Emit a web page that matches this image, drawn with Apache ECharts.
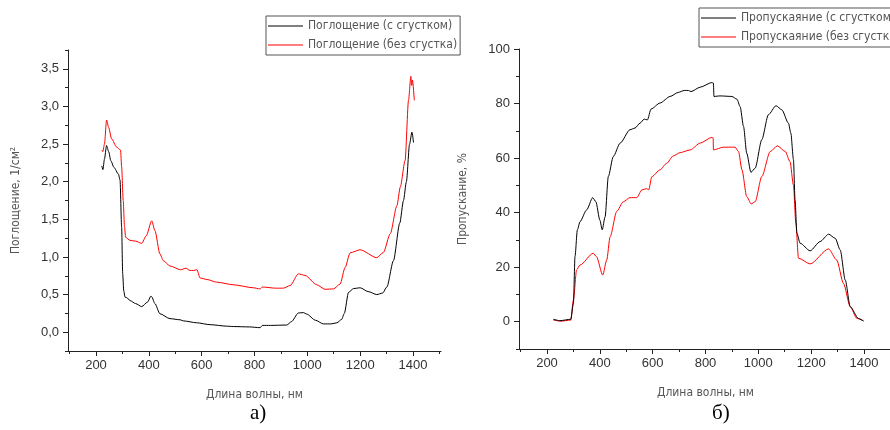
<!DOCTYPE html>
<html>
<head>
<meta charset="utf-8">
<style>
  html, body { margin: 0; padding: 0; background: #fff; }
  #chart { width: 890px; height: 430px; }
</style>
</head>
<body>
<div id="chart"></div>
<script src="https://cdn.jsdelivr.net/npm/echarts@6/dist/echarts.min.js"></script>
<script>
    // а) поглощение
    var wlAbsClot = [222, 226, 232, 240, 248, 256, 268, 285, 291, 297, 301, 305, 310, 316, 329, 350, 373, 395, 408, 411, 423, 442, 480, 518, 531, 581, 632, 695, 720, 780, 821, 830, 860, 922, 940, 966, 985, 998, 1030, 1061, 1090, 1112, 1130, 1140, 1156, 1175, 1200, 1230, 1263, 1285, 1301, 1326, 1350, 1364, 1375, 1387, 1396, 1402];
    var absClot   = [2.21, 2.16, 2.30, 2.48, 2.40, 2.28, 2.19, 2.10, 2.02, 1.40, 0.78, 0.55, 0.465, 0.46, 0.42, 0.38, 0.34, 0.40, 0.48, 0.47, 0.38, 0.245, 0.18, 0.165, 0.15, 0.125, 0.10, 0.08, 0.075, 0.07, 0.06, 0.09, 0.09, 0.095, 0.14, 0.255, 0.26, 0.24, 0.16, 0.11, 0.11, 0.125, 0.17, 0.25, 0.53, 0.58, 0.59, 0.54, 0.50, 0.52, 0.60, 0.95, 1.45, 1.75, 2.00, 2.50, 2.66, 2.52];

    var wlAbsNoClot = [222, 226, 232, 240, 248, 259, 278, 293, 297, 303, 308, 312, 329, 350, 373, 390, 411, 423, 442, 455, 480, 520, 541, 555, 568, 582, 594, 620, 657, 720, 796, 821, 830, 880, 909, 935, 966, 991, 1036, 1067, 1099, 1124, 1143, 1162, 1200, 1263, 1288, 1314, 1339, 1352, 1370, 1383, 1392, 1395, 1398, 1405];
    var absNoClot   = [2.42, 2.40, 2.50, 2.82, 2.72, 2.57, 2.46, 2.42, 2.20, 1.75, 1.40, 1.26, 1.22, 1.21, 1.18, 1.28, 1.48, 1.35, 1.04, 0.95, 0.88, 0.83, 0.85, 0.82, 0.82, 0.83, 0.72, 0.70, 0.665, 0.63, 0.59, 0.575, 0.60, 0.585, 0.585, 0.62, 0.775, 0.755, 0.63, 0.57, 0.575, 0.64, 0.86, 1.055, 1.095, 0.99, 1.06, 1.31, 1.68, 1.93, 2.28, 3.08, 3.40, 3.28, 3.35, 3.08];

    // б) пропускание
    var wlTrClot = [224, 249, 290, 300, 306, 315, 325, 350, 373, 385, 400, 409, 420, 432, 451, 477, 514, 533, 552, 568, 580, 594, 628, 666, 697, 720, 735, 745, 780, 824, 830, 832, 855, 900, 919, 931, 944, 956, 972, 988, 1013, 1038, 1067, 1089, 1114, 1123, 1133, 1139, 1146, 1158, 1196, 1234, 1266, 1291, 1310, 1329, 1348, 1379, 1398];
    var trClot   = [0.9, 0.4, 0.9, 6.7, 23.9, 33.7, 36.7, 41, 45.5, 44, 37.3, 33.7, 38.5, 53.2, 60.6, 65.5, 70.4, 71, 72.8, 74.3, 74.0, 78, 80.2, 82.6, 84.1, 84.8, 84.8, 84.4, 86, 87.7, 87.5, 82.6, 82.8, 82.6, 81.6, 78.9, 71.6, 61.8, 54.8, 56.3, 66.7, 75.9, 79.2, 77.7, 72.8, 69.2, 59.4, 44.7, 32.5, 28.8, 26, 29.4, 32.1, 30.6, 26.3, 15.3, 5.5, 1.2, 0.2];

    var wlTrNoClot = [224, 252, 290, 300, 312, 325, 375, 387, 411, 426, 439, 464, 489, 514, 540, 559, 576, 585, 597, 628, 653, 678, 704, 742, 780, 824, 829, 830, 868, 912, 925, 938, 956, 973, 988, 1013, 1045, 1072, 1102, 1120, 1133, 1142, 1152, 1196, 1266, 1297, 1322, 1348, 1373, 1398];
    var trNoClot   = [0.6, 0.2, 0.6, 8, 19, 20.8, 25.1, 23.9, 17.1, 22.6, 31.2, 40.5, 44, 45.5, 45.5, 48.3, 48.8, 48.4, 53.2, 55.7, 58.1, 60.8, 62, 63, 65.5, 67.6, 67.4, 63, 64, 64, 62.4, 55.7, 45.9, 43.2, 44, 53.2, 62.4, 64.5, 62.4, 58.7, 50, 36, 23.3, 21.2, 26.7, 22.6, 14.1, 5.5, 1.2, 0.4];

    var xMajor = [200, 400, 600, 800, 1000, 1200, 1400];
    var xMinor = [100, 300, 500, 700, 900, 1100, 1300, 1500];
    var absMajor = [0, 0.5, 1, 1.5, 2, 2.5, 3, 3.5];
    var absMinor = [-0.25, 0.25, 0.75, 1.25, 1.75, 2.25, 2.75, 3.25, 3.75];
    var trMajor = [0, 20, 40, 60, 80, 100];
    var trMinor = [-10, 10, 30, 50, 70, 90];

    function zip(xs, ys) {
        return xs.map(function (x, i) { return [x, ys[i]]; });
    }

    var narrow = "'DejaVu Sans Condensed', 'Liberation Sans Narrow', sans-serif";
    var axisColor = '#222';
    var labelStyle = { color: '#333', fontSize: 13, fontFamily: 'Liberation Sans, Arial, sans-serif' };

    function majorX(grid, name) {
        return {
            type: 'value', gridIndex: grid, position: 'bottom', min: 94, max: 1506,
            name: name, nameLocation: 'middle', nameGap: 38,
            nameTextStyle: { fontFamily: narrow, fontSize: 12, color: '#555' },
            axisLine: { onZero: false, lineStyle: { color: axisColor, width: 1 } },
            axisTick: { customValues: xMajor, length: 5, lineStyle: { color: axisColor } },
            axisLabel: Object.assign({ customValues: xMajor, margin: 8, formatter: function (v) { return String(v); } }, labelStyle),
            splitLine: { show: false }
        };
    }
    // вспомогательные оси только для мелких засечек
    function minorX(grid) {
        return {
            type: 'value', gridIndex: grid, position: 'bottom', offset: 0, min: 94, max: 1506,
            axisLine: { show: true, onZero: false, lineStyle: { color: 'rgba(0,0,0,0)' } },
            axisTick: { show: true, customValues: xMinor, length: 3, lineStyle: { color: axisColor } },
            axisLabel: { show: true, customValues: xMinor, color: 'rgba(0,0,0,0)' },
            splitLine: { show: false }
        };
    }
    function majorY(grid, min, max, ticks, name, gap, fmt) {
        return {
            type: 'value', gridIndex: grid, position: 'left', min: min, max: max,
            name: name, nameLocation: 'middle', nameGap: gap,
            nameTextStyle: { fontFamily: narrow, fontSize: 12, color: '#555' },
            axisLine: { show: true, onZero: false, lineStyle: { color: axisColor, width: 1 } },
            axisTick: { show: true, customValues: ticks, length: 5, lineStyle: { color: axisColor } },
            axisLabel: Object.assign({ customValues: ticks, margin: 9, formatter: fmt }, labelStyle),
            splitLine: { show: false }
        };
    }
    function minorY(grid, min, max, ticks) {
        return {
            type: 'value', gridIndex: grid, position: 'left', offset: 0, min: min, max: max,
            axisLine: { show: true, onZero: false, lineStyle: { color: 'rgba(0,0,0,0)' } },
            axisTick: { show: true, customValues: ticks, length: 3, lineStyle: { color: axisColor } },
            axisLabel: { show: true, customValues: ticks, color: 'rgba(0,0,0,0)' },
            splitLine: { show: false }
        };
    }

    function lineSeries(name, xi, yi, data, color) {
        return {
            name: name, type: 'line', xAxisIndex: xi, yAxisIndex: yi,
            data: data, showSymbol: false, symbol: 'none',
            smooth: 0.25, smoothMonotone: 'x',
            lineStyle: { color: color, width: 1 },
            itemStyle: { color: color }
        };
    }

    var legendBase = {
        orient: 'vertical', icon: 'rect', itemWidth: 35, itemHeight: 1,
        itemGap: 7, padding: [4, 3, 4, 2],
        borderColor: '#555', borderWidth: 1,
        textStyle: { fontFamily: narrow, fontSize: 12, color: '#555' }
    };

    var chart = echarts.init(document.getElementById('chart'));
    chart.setOption({
        animation: false,
        backgroundColor: '#fff',
        grid: [
            { left: 68, top: 50, width: 373, height: 301, outerBoundsMode: 'none' },
            { left: 519, top: 49, width: 373, height: 300, outerBoundsMode: 'none' }
        ],
        legend: [
            Object.assign({ left: 266, top: 16, data: ['Поглощение (с сгустком)', 'Поглощение (без сгустка)'] }, legendBase),
            Object.assign({ left: 699, top: 8, data: ['Пропускаяние (с сгустком)', 'Пропускаяние (без сгустка)'] }, legendBase)
        ],
        xAxis: [
            majorX(0, 'Длина волны, нм'), minorX(0),
            majorX(1, 'Длина волны, нм'), minorX(1)
        ],
        yAxis: [
            majorY(0, -0.25, 3.75, absMajor, 'Поглощение, 1/см²', 46, function (v) { return v.toFixed(1).replace('.', ','); }),
            minorY(0, -0.25, 3.75, absMinor),
            majorY(1, -10, 100, trMajor, 'Пропускание, %', 50, function (v) { return String(v); }),
            minorY(1, -10, 100, trMinor)
        ],
        series: [
            lineSeries('Поглощение (с сгустком)', 0, 0, zip(wlAbsClot, absClot), '#000'),
            lineSeries('Поглощение (без сгустка)', 0, 0, zip(wlAbsNoClot, absNoClot), '#ff0000'),
            lineSeries('Пропускаяние (без сгустка)', 2, 2, zip(wlTrNoClot, trNoClot), '#ff0000'),
            lineSeries('Пропускаяние (с сгустком)', 2, 2, zip(wlTrClot, trClot), '#000')
        ],
        graphic: [
            { type: 'text', left: 250, top: 403, style: { text: 'а)', font: '21px "Liberation Serif", serif', fill: '#000' } },
            { type: 'text', left: 712, top: 403, style: { text: 'б)', font: '21px "Liberation Serif", serif', fill: '#000' } }
        ]
    });
</script>
</body>
</html>
